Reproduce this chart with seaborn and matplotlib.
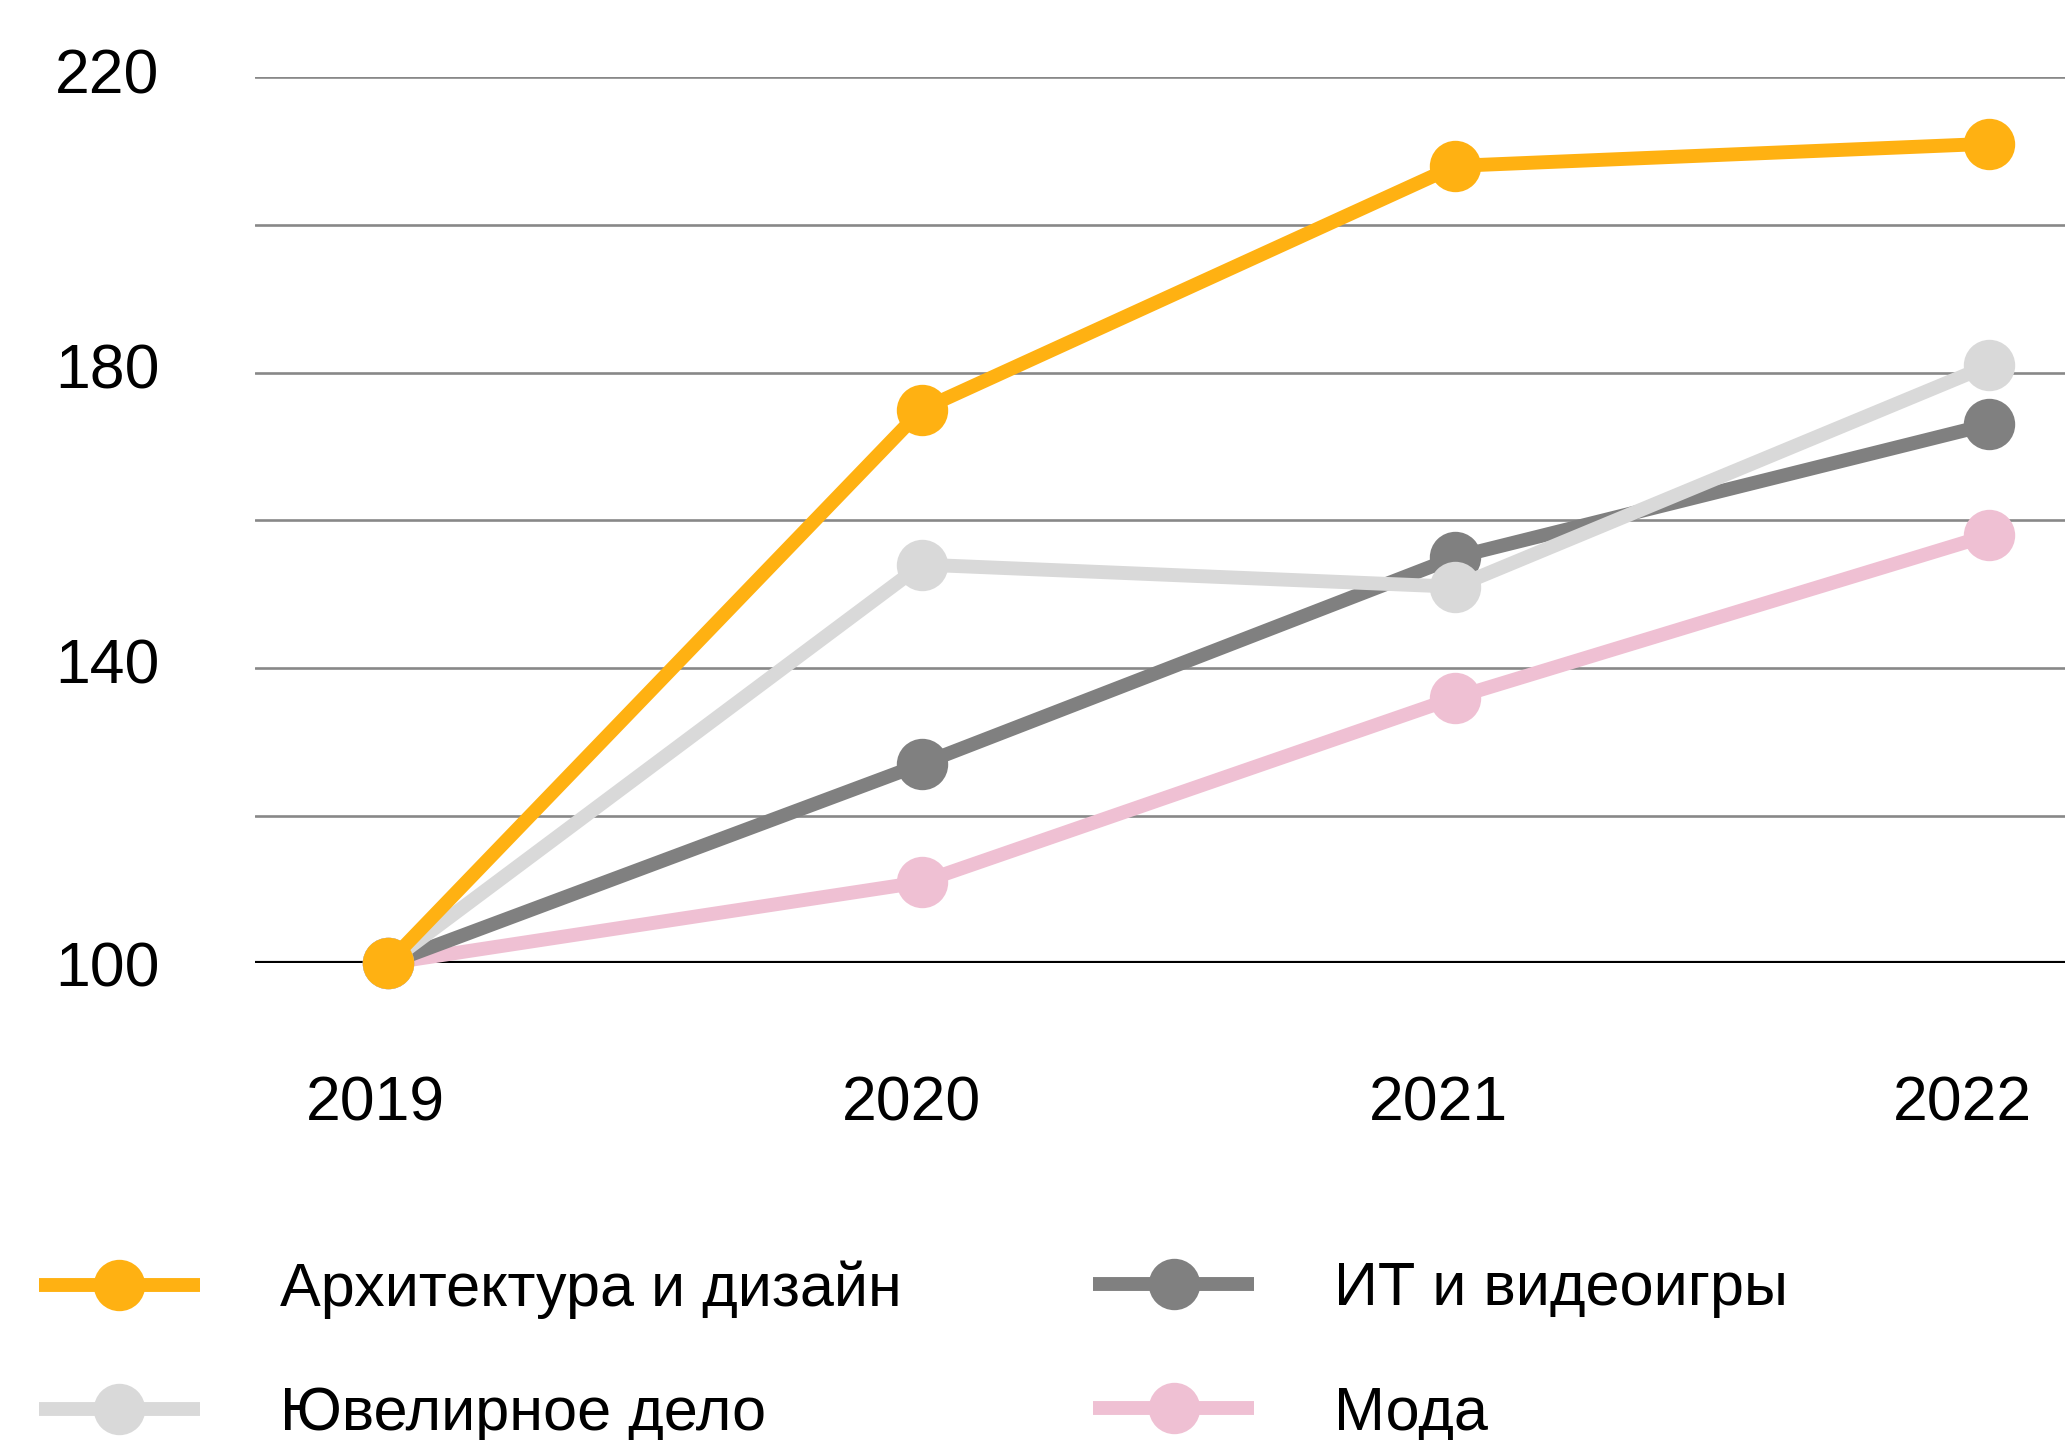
import seaborn as sns
import matplotlib.pyplot as plt
import matplotlib.transforms as mtransforms
import pandas as pd

# data (index, 2019 = 100)
years = [2019, 2020, 2021, 2022]
series_names = ["Архитектура и дизайн", "Ювелирное дело", "ИТ и видеоигры", "Мода"]
arch_design = [100, 175, 208, 211]
jewelry = [100, 154, 151, 181]
it_games = [100, 127, 155, 173]
fashion = [100, 111, 136, 158]
y_ticks = [100, 120, 140, 160, 180, 200, 220]
y_labels = ["100", "", "140", "", "180", "", "220"]

colors = {
    "Архитектура и дизайн": "#FFB112",
    "Ювелирное дело": "#D9D9D9",
    "ИТ и видеоигры": "#808080",
    "Мода": "#EFC0D3",
}
# bottom to top
draw_order = ["Мода", "ИТ и видеоигры", "Ювелирное дело", "Архитектура и дизайн"]

df = pd.DataFrame({
    "year": years * 4,
    "value": arch_design + jewelry + it_games + fashion,
    "series": [name for name in series_names for _ in years],
})

sns.set_style("white")
plt.rcParams["font.family"] = ["Liberation Sans", "DejaVu Sans"]
plt.rcParams["text.color"] = "black"
plt.rcParams["xtick.color"] = "black"
plt.rcParams["ytick.color"] = "black"

W, H = 2065, 1440
fig = plt.figure(figsize=(W / 100, H / 100), dpi=100)
ax = fig.add_axes([255 / W, 1 - 963.3 / H, 1 - 255 / W, (963.3 - 77.3) / H])

sns.lineplot(data=df, x="year", y="value", hue="series", hue_order=draw_order,
             palette=colors, marker="o", markersize=37, markeredgewidth=0,
             linewidth=10, errorbar=None, legend=False, ax=ax)

handles = {}
for name, line in zip(draw_order, ax.lines):
    line.set_clip_on(False)
    line.set_solid_capstyle("butt")
    handles[name] = line

# axes, grid
ax.set_xlim(2018.751, 2022.142)
ax.set_ylim(100, 220)
ax.set_yticks(y_ticks)
ax.set_yticklabels(y_labels)
ax.set_xticks(years)
ax.set_xticklabels([str(y) for y in years])
ax.set_xlabel("")
ax.set_ylabel("")
ax.grid(axis="y", color="#888888", lw=1.9)
ax.set_axisbelow(True)
ax.axhline(100, color="black", lw=3, zorder=1.5)
for side in ["top", "right", "left", "bottom"]:
    ax.spines[side].set_visible(False)

ax.tick_params(axis="y", length=0, pad=144, labelsize=45, labelcolor="black")
ax.tick_params(axis="x", length=0, pad=80, labelsize=45, labelcolor="black")
up = mtransforms.ScaledTranslation(0, 0.07, fig.dpi_scale_trans)
for lab in ax.get_yticklabels():
    lab.set_ha("left")
    if lab.get_text() not in ("", "100"):
        lab.set_transform(lab.get_transform() + up)
x_shift = [-0.12, -0.10, -0.17, -0.27]
for lab, dx in zip(ax.get_xticklabels(), x_shift):
    lab.set_transform(lab.get_transform()
                      + mtransforms.ScaledTranslation(dx, 0, fig.dpi_scale_trans))

# legend in two columns
fs = 44
em = fs * 100 / 72
legend_kw = dict(loc="center left", frameon=False,
                 prop={"size": fs}, labelcolor="black",
                 handlelength=161 / em, handletextpad=80 / em,
                 labelspacing=1.1, borderpad=0, borderaxespad=0)
fig.legend([handles[n] for n in series_names[:2]], series_names[:2],
           bbox_to_anchor=(39 / W, 1 - 1352 / H), **legend_kw)
fig.legend([handles[n] for n in series_names[2:]], series_names[2:],
           bbox_to_anchor=(1093 / W, 1 - 1352 / H), **legend_kw)

fig.savefig("out.png", dpi=100)
